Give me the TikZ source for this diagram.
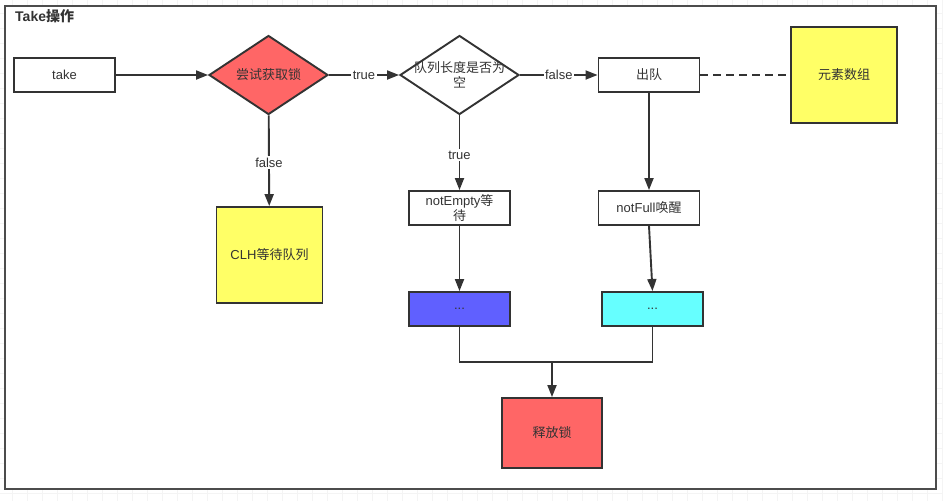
\documentclass[tikz,border=0pt]{standalone}
\usepackage{fontspec}
\setmainfont{Liberation Sans}
\newfontfamily\cjk{Noto Sans CJK SC}
\usetikzlibrary{arrows.meta,shapes.geometric}
\definecolor{linec}{HTML}{333333}
\definecolor{redf}{HTML}{FF6666}
\definecolor{yelf}{HTML}{FFFF66}
\definecolor{bluef}{HTML}{6060FF}
\definecolor{cyanf}{HTML}{66FFFF}
\tikzset{
  box/.style={draw=linec, line width=1.9pt, fill=white, minimum width=101pt, minimum height=34pt, inner sep=1pt, font=\fontsize{13}{14.5}\selectfont, text=linec, align=center, text width=92pt},
  bigbox/.style={box, minimum width=106pt, minimum height=96pt},
  dia/.style={diamond, draw=linec, line width=1.9pt, fill=white, minimum width=119pt, minimum height=79pt, aspect=1.5, inner sep=0pt},
  dtext/.style={font=\fontsize{13}{14.5}\selectfont, text=linec, align=center, inner sep=0pt},
  arr/.style={draw=linec, line width=1.9pt, -{Triangle[length=12pt,width=9pt]}},
  lbl/.style={fill=white, inner sep=1.5pt, font=\fontsize{13}{14}\selectfont, text=linec}
}
\begin{document}
\begin{tikzpicture}[x=1pt,y=-1pt]
\useasboundingbox (0,0) rectangle (943,501);
% grid background
\foreach \gx in {12,27,...,942} \draw[gray!9, line width=0.6pt] (\gx,0) -- (\gx,501);
\foreach \gy in {13,28,...,500} \draw[gray!9, line width=0.6pt] (0,\gy) -- (943,\gy);
% frame
\draw[draw=black!70, line width=1.9pt, fill=white] (5,6) rectangle (936,489);
\node[anchor=west, font=\bfseries\fontsize{14}{15}\selectfont, inner sep=0pt, text=linec] (title) at (15,16) {Take{\cjk\bfseries 操作}};
% nodes
\node[box] (take) at (64.5,75) {take};
\node[dia, fill=redf, label={[dtext]center:{\cjk 尝试获取锁}}] (lock) at (268.5,75) {};
\node[dia, label={[dtext]center:{\cjk 队列长度是否为}\\{\cjk 空}}] (empty) at (459.5,75) {};
\node[box] (deq) at (649,75) {\cjk 出队};
\node[bigbox, fill=yelf] (arr) at (844,75) {\cjk 元素数组};
\node[bigbox, fill=yelf] (clh) at (269.5,255) {CLH{\cjk 等待队列}};
\node[box] (nempty) at (459.5,208) {notEmpty{\cjk 等}\\{\cjk 待}};
\node[box] (nfull) at (649,208) {notFull{\cjk 唤醒}};
\node[box, fill=bluef] (dots1) at (459.5,309) {...};
\node[box, fill=cyanf] (dots2) at (652.5,309) {...};
\node[box, fill=redf, minimum width=100pt, minimum height=70pt] (rel) at (552,433) {\cjk 释放锁};
\coordinate (join) at (552,362);
% connectors
\draw[arr] (take) -- (lock);
\draw[arr] (lock) -- node[lbl] {true} (empty);
\draw[arr] (empty) -- node[lbl] {false} (deq);
\draw[arr] (lock) -- node[lbl, pos=0.52] {false} (clh);
\draw[arr] (empty) -- node[lbl, pos=0.53] {true} (nempty);
\draw[arr] (deq) -- (nfull);
\draw[arr] (nempty) -- (dots1);
\draw[arr] (nfull.south) -- (dots2.north);
\draw[draw=linec, line width=1.9pt, dashed, dash pattern=on 8pt off 5pt] (deq) -- (arr);
\draw[draw=linec, line width=1.9pt] (dots1.south) |- (join) -| (dots2.south);
\draw[arr] (join) -- (rel);
\end{tikzpicture}
\end{document}
